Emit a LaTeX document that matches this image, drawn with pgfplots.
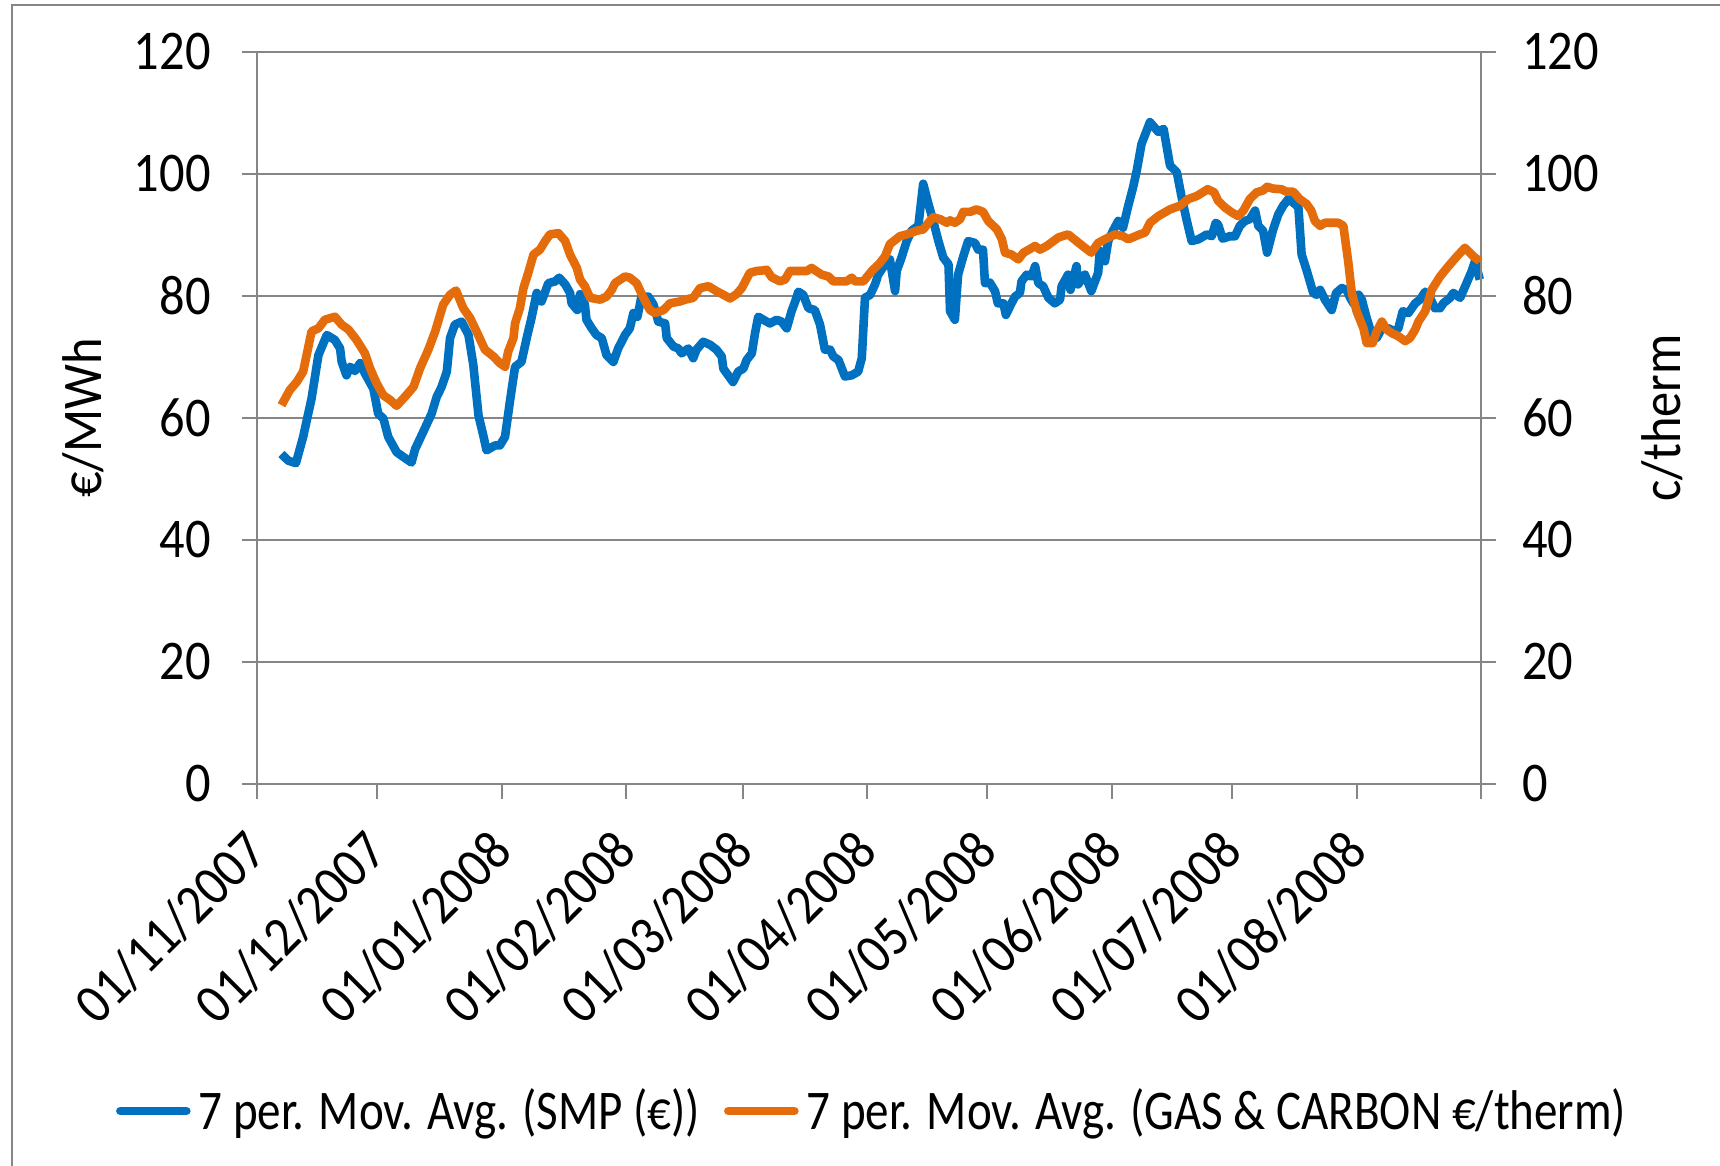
\documentclass[border=0pt]{standalone}
\usepackage{pgfplots}
\pgfplotsset{compat=1.18}
\usepackage{fontspec}
\setmainfont{Carlito}[FakeStretch=0.9]
\newfontfamily\legfont{Carlito}[FakeStretch=0.84]
\definecolor{smpblue}{RGB}{0,112,192}
\definecolor{gasorange}{RGB}{228,108,10}
\definecolor{axgray}{RGB}{134,134,134}
\newcommand{\bigf}{\fontsize{28}{31}\selectfont}
\begin{document}
\begin{tikzpicture}
\useasboundingbox (0,0) rectangle (860pt,583pt);
\draw[axgray, line width=1.2pt] (6pt,-10pt) -- (6pt,580.5pt) -- (880pt,580.5pt);
\pgfplotsset{
  every axis/.append style={
    at={(128.5pt,191pt)}, anchor=south west,
    width=612pt, height=366pt, scale only axis,
    xmin=0, xmax=305, ymin=0, ymax=120,
    ytick={0,20,...,120},
    tick align=outside, major tick length=7.5pt,
    tick style={axgray, line width=1pt},
    axis line style={axgray, line width=1pt},
    ticklabel style={font=\bigf, inner sep=0pt},
    label style={font=\bigf},
    /pgf/number format/assume math mode=true,
    clip=false,
  },
}
\begin{axis}[
  axis x line*=bottom, axis y line*=left,
  ymajorgrids, grid style={axgray, line width=0.9pt},
  xtick={0,30,61,92,121,152,182,213,243,274,305},
  xticklabels={01/11/2007,01/12/2007,01/01/2008,01/02/2008,01/03/2008,01/04/2008,01/05/2008,01/06/2008,01/07/2008,01/08/2008,{}},
  xticklabel style={rotate=45, anchor=east},
  xticklabel shift=21pt,
  yticklabel shift=15.5pt,
  ylabel={€/MWh},
  ylabel style={at={(axis description cs:-0.142,0.5)}, anchor=center},
]
\addplot[smpblue, line width=4.3pt, line join=round] coordinates {
(6.1,54.1)(7.8,53.0)(9.7,52.6)(11.5,56.9)(13.6,63.2)(15.3,70.3)(17.4,73.6)(19.4,72.8)(20.7,71.4)(21.1,69.2)
(22.3,67.0)(23.2,68.4)(24.4,67.7)(25.7,69.0)(26.9,67.3)(29.0,64.8)(30.2,60.7)(31.5,59.9)(32.7,56.9)(34.8,54.4)
(36.5,53.6)(38.5,52.7)(39.4,54.9)(41.4,57.7)(43.5,60.7)(44.8,63.5)(46.0,65.1)(47.3,67.6)(48.1,73.1)(49.3,75.3)
(51.0,75.8)(52.7,73.6)(53.9,68.7)(55.2,60.4)(56.4,57.1)(57.2,54.7)(59.3,55.5)(60.5,55.5)(61.8,56.9)(63.0,62.6)
(64.3,68.4)(65.9,69.2)(67.2,73.1)(68.4,76.4)(69.7,80.5)(70.9,79.1)(72.6,82.1)(74.3,82.4)(75.3,83.0)(76.8,81.9)
(78.0,80.5)(78.4,78.8)(79.8,77.7)(80.5,80.3)(81.7,78.6)(82.1,76.1)(83.4,74.7)(84.6,73.6)(85.9,73.1)(87.1,70.3)
(88.8,69.2)(90.0,71.4)(91.7,73.6)(92.9,74.7)(93.8,77.2)(94.8,76.6)(95.8,79.9)(97.5,79.9)(98.8,78.6)(100.0,75.8)
(101.7,75.5)(102.1,73.1)(103.8,71.7)(105.0,71.4)(105.8,70.6)(107.5,71.4)(108.7,69.8)(109.5,71.2)(111.2,72.5)(112.9,72.0)
(114.5,71.2)(115.8,70.1)(116.2,68.1)(117.4,67.0)(118.6,65.9)(119.9,67.6)(121.2,68.1)(122.0,69.5)(123.3,70.6)(124.1,73.9)
(124.9,76.6)(126.2,76.1)(127.8,75.5)(129.5,76.1)(130.7,75.8)(132.0,74.7)(133.2,77.5)(134.1,79.1)(134.9,80.7)(136.1,80.2)
(137.4,78.0)(139.0,77.7)(140.3,75.3)(141.5,71.2)(142.8,71.2)(143.6,70.1)(144.9,69.5)(146.5,66.8)(148.2,67.0)(149.8,67.6)
(150.7,69.8)(151.5,79.7)(152.8,80.2)(154.0,81.9)(154.8,83.5)(156.5,85.2)(157.7,86.0)(159.0,80.8)(159.4,84.1)(160.6,86.3)
(161.9,89.0)(163.1,90.7)(164.8,91.5)(166.0,98.4)(167.3,95.1)(168.5,92.3)(169.8,89.0)(171.0,86.3)(172.3,85.2)(172.7,77.5)
(173.9,76.1)(174.7,83.5)(176.0,86.5)(177.2,89.0)(178.9,88.7)(179.7,87.6)(180.9,87.6)(181.4,82.1)(182.6,82.2)(183.9,80.8)
(184.6,78.8)(186.0,78.8)(186.6,76.9)(188.0,78.8)(188.9,79.9)(190.1,80.5)(190.5,82.4)(191.8,83.5)(193.0,83.2)(193.9,84.9)
(194.7,82.1)(195.9,81.6)(197.2,79.7)(198.8,78.8)(200.1,79.4)(200.5,81.6)(202.1,83.5)(202.7,81.0)(204.2,84.9)(204.6,81.9)
(206.3,83.5)(207.9,80.8)(209.6,83.8)(210.0,87.4)(210.8,86.0)(211.3,85.7)(212.1,89.0)(213.3,90.7)(214.6,92.3)(215.8,91.2)
(217.1,94.8)(218.3,97.8)(219.2,100.5)(220.4,104.9)(222.5,108.5)(224.6,106.9)(225.9,107.4)(227.5,101.4)(229.2,100.3)(230.4,96.2)
(231.7,92.3)(232.9,89.0)(234.6,89.3)(236.7,90.1)(237.9,89.8)(238.9,92.0)(239.5,91.7)(240.6,89.4)(242.4,89.8)(243.7,89.8)
(244.9,91.5)(246.2,92.3)(247.4,92.6)(248.7,94.0)(249.5,91.5)(250.7,90.7)(251.7,87.1)(253.2,90.9)(254.5,93.4)(255.7,94.8)
(257.0,95.9)(258.6,95.1)(259.5,94.5)(260.3,86.8)(261.6,84.1)(263.2,80.5)(264.0,80.2)(264.9,81.0)(266.1,79.4)(267.8,77.7)
(268.9,80.5)(270.3,81.3)(271.5,81.0)(272.4,79.7)(273.2,78.8)(274.5,80.2)(275.3,79.4)(276.5,76.4)(277.8,73.6)(279.0,73.1)
(280.3,74.7)(281.9,74.7)(283.6,74.2)(284.4,74.7)(285.5,77.5)(286.9,77.2)(288.6,78.8)(289.8,79.4)(291.1,80.7)(292.3,79.7)
(293.5,78.0)(294.8,78.0)(295.6,78.8)(297.3,79.7)(298.1,80.5)(299.8,79.7)(301.4,82.1)(302.7,84.1)(303.5,85.7)(304.7,82.7)
};
\end{axis}
\begin{axis}[
  axis x line=none, axis y line*=right,
  yticklabel shift=13pt,
  ylabel={c/therm},
  ylabel style={at={(axis description cs:1.148,0.5)}, anchor=center},
  legend columns=2,
  legend style={draw=none, fill=none, font=\legfont\fontsize{28}{31}\selectfont, at={(axis description cs:0.505,-0.4467)}, anchor=center,
    /tikz/every even column/.append style={column sep=8pt},
    nodes={inner xsep=4pt, inner ysep=0pt}},
  legend image code/.code={\draw[#1, line width=4.3pt, line cap=round] (0pt,0pt) -- (33pt,0pt);},
]
\addlegendimage{smpblue}
\addlegendentry{7 per. Mov. Avg. (SMP (€))}
\addplot[gasorange, line width=4.3pt, line join=round] coordinates {
(6.1,62.1)(8.2,64.6)(9.9,65.9)(11.5,67.6)(13.6,74.2)(15.3,74.7)(16.9,76.1)(19.4,76.6)(21.1,75.3)(22.8,74.5)
(24.8,72.8)(26.9,70.6)(28.2,68.1)(29.8,65.7)(31.5,63.7)(33.1,63.0)(34.8,62.0)(36.9,63.5)(39.0,65.1)(40.6,68.1)
(42.7,71.2)(44.4,74.2)(46.4,78.6)(48.1,80.2)(49.6,80.9)(51.4,78.0)(53.1,76.4)(54.7,74.2)(56.8,71.2)(58.9,70.1)
(60.5,69.0)(61.8,68.4)(62.6,70.9)(63.9,73.1)(64.3,75.5)(65.5,78.0)(66.4,81.3)(67.6,83.8)(68.9,86.8)(70.5,87.6)
(71.8,89.0)(73.0,90.1)(75.1,90.3)(76.8,89.0)(78.0,86.8)(79.7,84.6)(80.5,82.7)(81.7,81.6)(83.0,79.7)(85.5,79.4)
(87.1,79.9)(88.4,81.0)(89.2,82.1)(91.7,83.2)(92.9,83.0)(94.6,82.1)(96.3,79.7)(97.9,77.7)(99.2,77.2)(101.3,77.7)
(102.9,78.8)(105.4,79.1)(106.7,79.4)(108.7,79.7)(110.4,81.3)(112.5,81.6)(114.5,80.8)(116.2,80.2)(117.9,79.6)(119.5,80.3)
(120.8,81.3)(122.8,83.8)(124.5,84.1)(126.2,84.2)(127.0,84.3)(128.2,83.1)(130.3,82.4)(131.6,82.7)(132.8,84.1)(137.0,84.1)
(138.2,84.6)(140.7,83.5)(142.4,83.2)(143.6,82.4)(146.9,82.4)(148.2,83.0)(149.0,82.4)(151.1,82.4)(153.2,84.1)(155.2,85.4)
(156.5,86.5)(157.7,88.5)(160.2,89.8)(161.9,90.1)(164.4,90.7)(166.0,90.9)(167.3,92.0)(168.5,92.9)(170.2,92.6)(171.9,92.0)
(172.7,92.4)(173.9,92.0)(175.2,92.6)(176.0,93.8)(177.7,93.8)(179.3,94.2)(180.9,93.8)(182.2,92.3)(184.4,90.9)(185.6,89.3)
(186.4,87.1)(188.0,86.8)(189.7,86.0)(191.0,87.1)(193.9,88.2)(195.1,87.6)(196.8,88.2)(199.7,89.6)(202.1,90.1)(204.2,89.0)
(206.3,87.9)(207.9,87.1)(209.6,88.7)(211.3,89.3)(213.8,90.1)(215.8,89.8)(217.1,89.3)(220.0,90.1)(221.3,90.4)(222.5,92.0)
(224.6,93.1)(227.5,94.2)(230.0,94.8)(232.1,95.9)(234.2,96.4)(236.9,97.5)(238.5,97.0)(239.5,95.6)(241.2,94.5)(242.9,93.7)
(244.5,93.1)(245.8,94.0)(247.4,95.9)(249.1,97.0)(250.7,97.3)(251.7,97.9)(253.2,97.6)(255.3,97.5)(256.5,97.1)(258.2,97.1)
(259.8,95.9)(261.5,95.1)(262.7,94.0)(263.6,92.3)(264.9,91.5)(266.1,92.0)(269.4,92.0)(270.7,91.5)(271.9,85.7)(272.8,80.5)
(274.0,77.5)(275.7,74.7)(276.5,72.3)(278.0,72.3)(279.0,74.2)(280.3,75.8)(281.5,74.5)(282.8,73.9)(284.4,73.4)(286.1,72.6)
(287.3,73.1)(288.6,74.5)(289.4,75.8)(291.1,77.5)(292.7,81.0)(294.8,83.2)(296.9,84.9)(299.0,86.5)(301.0,87.9)(303.1,86.5)
(304.7,85.7)
};
\addlegendentry{7 per. Mov. Avg. (GAS \& CARBON €/therm)}
\end{axis}
\end{tikzpicture}
\end{document}
